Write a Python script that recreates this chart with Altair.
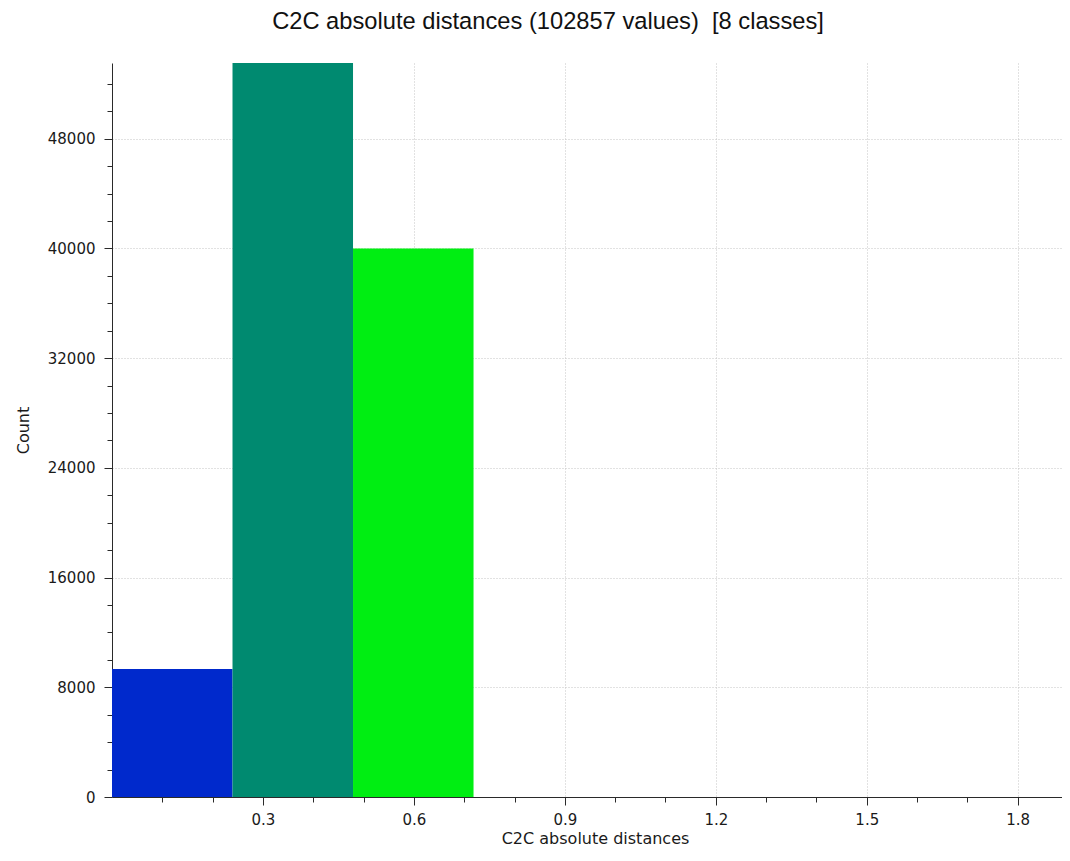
import altair as alt
import pandas as pd

# ---- data ----
classes = [1, 2, 3, 4, 5, 6, 7, 8]
bin_start = [0.0, 0.2395, 0.479, 0.7185, 0.958, 1.1975, 1.437, 1.6765]
bin_end = [0.2395, 0.479, 0.7185, 0.958, 1.1975, 1.437, 1.6765, 1.916]
counts = [9340, 53517, 40000, 0, 0, 0, 0, 0]

palette = ["#0029CC", "#008A70", "#00EE12", "#7FFF00",
           "#FFFF00", "#FFAA00", "#FF5500", "#FF0000"]

x_major = [0.3, 0.6, 0.9, 1.2, 1.5, 1.8]
x_minor = [0.1, 0.2, 0.4, 0.5, 0.7, 0.8, 1.0, 1.1, 1.3, 1.4, 1.6, 1.7]
y_major = [0, 8000, 16000, 24000, 32000, 40000, 48000]
y_minor = [2000, 4000, 6000, 10000, 12000, 14000, 18000, 20000, 22000,
           26000, 28000, 30000, 34000, 36000, 38000, 42000, 44000, 46000,
           50000, 52000]

title_text = "C2C absolute distances (102857 values)\u00a0 [8 classes]"
x_title = "C2C absolute distances"
y_title = "Count"

df = pd.DataFrame({"cls": classes, "start": bin_start, "end": bin_end, "count": counts})

W, H = 950, 734
LBL_FONT = "DejaVu Sans"
AX_COLOR = "#2a2a2a"

x_scale = alt.Scale(domain=[0, 1.888], nice=False, zero=False)
y_scale = alt.Scale(domain=[0, 53517], nice=False)

base = alt.Chart(df)

bars = base.mark_rect(clip=True, strokeWidth=0).encode(
    x=alt.X("start:Q", scale=x_scale,
            axis=alt.Axis(values=x_major, format=".1f", orient="bottom",
                          title=x_title, grid=True, gridDash=[1, 2],
                          gridColor="#c4c4c4", gridWidth=1,
                          tickSize=8, tickColor=AX_COLOR, domainColor=AX_COLOR,
                          labelFont=LBL_FONT, labelFontSize=15, labelColor="#1a1a1a",
                          labelPadding=7, titleFont=LBL_FONT, titleFontSize=16,
                          titleFontWeight="normal", titleColor="#1a1a1a",
                          titleX=483, titleY=46, titleBaseline="alphabetic",
                          titleAlign="center")),
    x2="end:Q",
    y=alt.Y("count:Q", scale=y_scale,
            axis=alt.Axis(values=y_major, format="d", orient="left",
                          title=y_title, grid=True, gridDash=[1, 2],
                          gridColor="#c4c4c4", gridWidth=1,
                          tickSize=8, tickColor=AX_COLOR, domainColor=AX_COLOR,
                          labelFont=LBL_FONT, labelFontSize=15, labelColor="#1a1a1a",
                          labelPadding=9, titleFont=LBL_FONT, titleFontSize=16,
                          titleFontWeight="normal", titleColor="#1a1a1a",
                          titleAngle=270, titleX=-84, titleY=H / 2,
                          titleBaseline="alphabetic", titleAlign="center")),
    y2=alt.datum(0),
    color=alt.Color("cls:N", scale=alt.Scale(domain=classes, range=palette), legend=None),
)

minor = base.mark_rect(opacity=0).encode(
    x=alt.X("start:Q", scale=x_scale,
            axis=alt.Axis(values=x_minor, orient="bottom", labels=False, grid=False,
                          domain=False, tickSize=5, tickColor=AX_COLOR, title=None)),
    x2="end:Q",
    y=alt.Y("count:Q", scale=y_scale,
            axis=alt.Axis(values=y_minor, orient="left", labels=False, grid=False,
                          domain=False, tickSize=5, tickColor=AX_COLOR, title=None)),
    y2=alt.datum(0),
)

chart = alt.layer(bars, minor).resolve_axis(x="independent", y="independent").properties(
    width=W, height=H,
    autosize=alt.AutoSizeParams(type="none"),
    padding={"left": 104, "top": 55, "right": 0, "bottom": 51},
    title=alt.TitleParams(title_text, font="Liberation Sans", fontSize=23.7,
                          fontWeight="normal", color="#111111", anchor="middle",
                          frame="group", dx=-39, offset=10, baseline="alphabetic"),
).configure_view(stroke=None)

chart.save("out.html", embed_options={"renderer": "svg", "actions": False})
